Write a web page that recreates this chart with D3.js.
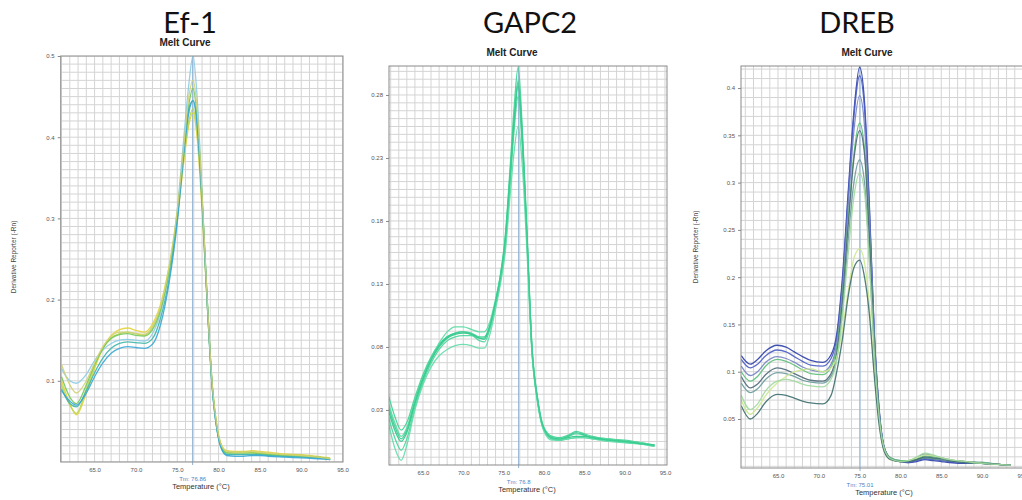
<!DOCTYPE html>
<html><head><meta charset="utf-8">
<script src="https://cdn.jsdelivr.net/npm/d3@7"></script>
<style>body{margin:0;background:#fff;}svg{display:block;}</style>
</head><body>
<svg id="chart" width="1022" height="500"></svg>
<script>
// ---------- DATA ----------
const panelTitles = ["Ef-1", "GAPC2", "DREB"];
const xTickValues = [65, 70, 75, 80, 85, 90, 95];
const ef1YTicks = [0.1, 0.2, 0.3, 0.4, 0.5];
const gapYTicks = [0.03, 0.08, 0.13, 0.18, 0.23, 0.28];
const drebYTicks = [0.05, 0.1, 0.15, 0.2, 0.25, 0.3, 0.35, 0.4];
const tmLabels = ["Tm: 76.86", "Tm: 76.8", "Tm: 75.01"];
const tmValues = [76.86, 76.86, 75.05];

const ef1Temps = [61, 62, 62.8, 64, 65, 66, 67, 68, 69, 70, 71, 72, 73, 74, 75, 75.8, 76.4, 76.9, 77.4, 78, 78.6, 79.2, 79.8, 80.4, 81, 82, 83, 84, 85, 86, 88, 90, 92, 93.5];
const ef1A = [0.115, 0.1, 0.097, 0.108, 0.125, 0.138, 0.146, 0.15, 0.151, 0.15, 0.149, 0.158, 0.185, 0.235, 0.31, 0.40, 0.465, 0.5, 0.45, 0.33, 0.2, 0.095, 0.04, 0.017, 0.01, 0.009, 0.009, 0.009, 0.009, 0.008, 0.007, 0.006, 0.005, 0.003];
const ef1B = [0.1, 0.072, 0.058, 0.085, 0.115, 0.14, 0.156, 0.163, 0.165, 0.162, 0.16, 0.17, 0.195, 0.24, 0.30, 0.37, 0.415, 0.43, 0.40, 0.31, 0.2, 0.1, 0.045, 0.02, 0.014, 0.013, 0.013, 0.014, 0.013, 0.012, 0.01, 0.009, 0.007, 0.005];
const ef1C = [0.095, 0.07, 0.06, 0.09, 0.118, 0.14, 0.153, 0.158, 0.16, 0.158, 0.156, 0.166, 0.19, 0.235, 0.3, 0.375, 0.42, 0.435, 0.405, 0.315, 0.2, 0.098, 0.043, 0.018, 0.012, 0.012, 0.012, 0.012, 0.011, 0.01, 0.009, 0.008, 0.006, 0.004];
const ef1D = [0.105, 0.08, 0.072, 0.095, 0.12, 0.14, 0.152, 0.157, 0.158, 0.156, 0.155, 0.163, 0.188, 0.235, 0.305, 0.385, 0.44, 0.46, 0.425, 0.325, 0.205, 0.098, 0.042, 0.018, 0.011, 0.011, 0.011, 0.011, 0.01, 0.009, 0.008, 0.007, 0.006, 0.004];
const ef1E = [0.09, 0.072, 0.068, 0.088, 0.11, 0.128, 0.14, 0.146, 0.148, 0.147, 0.146, 0.152, 0.178, 0.225, 0.3, 0.385, 0.435, 0.445, 0.42, 0.325, 0.205, 0.098, 0.04, 0.015, 0.009, 0.009, 0.009, 0.009, 0.009, 0.008, 0.007, 0.006, 0.005, 0.003];
const ef1F = [0.088, 0.075, 0.07, 0.085, 0.105, 0.122, 0.134, 0.14, 0.142, 0.141, 0.14, 0.145, 0.17, 0.22, 0.295, 0.38, 0.43, 0.445, 0.415, 0.32, 0.2, 0.095, 0.04, 0.015, 0.008, 0.007, 0.007, 0.008, 0.008, 0.007, 0.006, 0.005, 0.004, 0.003];
const ef1G = [0.12, 0.095, 0.085, 0.1, 0.122, 0.142, 0.155, 0.16, 0.16, 0.158, 0.157, 0.167, 0.192, 0.24, 0.31, 0.39, 0.45, 0.47, 0.435, 0.33, 0.205, 0.1, 0.044, 0.019, 0.013, 0.012, 0.012, 0.013, 0.012, 0.011, 0.009, 0.008, 0.006, 0.004];
const ef1Colors = ["#8ccbe6", "#e4d23c", "#b6d64a", "#74c65c", "#3fb6a8", "#38a6d6", "#d2d276"];

const gapTemps = [60.7, 61.5, 62.3, 63, 64, 65, 66, 67, 68, 69, 70, 71, 72, 72.6, 73.3, 74, 74.6, 75.2, 75.8, 76.3, 76.8, 77.3, 77.9, 78.5, 79.2, 80, 81, 82, 83, 84, 85, 86, 88, 90, 92, 93.7];
const gapA = [0.042, 0.025, 0.014, 0.02, 0.04, 0.058, 0.072, 0.082, 0.088, 0.091, 0.092, 0.091, 0.088, 0.088, 0.097, 0.116, 0.137, 0.168, 0.222, 0.27, 0.302, 0.255, 0.17, 0.082, 0.04, 0.016, 0.009, 0.008, 0.01, 0.013, 0.011, 0.009, 0.007, 0.006, 0.004, 0.002];
const gapB = [0.036, 0.02, 0.009, 0.016, 0.038, 0.056, 0.071, 0.083, 0.092, 0.096, 0.096, 0.094, 0.092, 0.092, 0.1, 0.118, 0.137, 0.166, 0.218, 0.262, 0.292, 0.25, 0.168, 0.08, 0.039, 0.015, 0.008, 0.007, 0.009, 0.011, 0.01, 0.008, 0.007, 0.005, 0.004, 0.002];
const gapC = [0.03, 0.014, 0.005, 0.012, 0.035, 0.054, 0.069, 0.08, 0.087, 0.09, 0.091, 0.09, 0.087, 0.086, 0.096, 0.115, 0.134, 0.163, 0.214, 0.258, 0.287, 0.245, 0.165, 0.079, 0.038, 0.014, 0.007, 0.006, 0.008, 0.009, 0.009, 0.008, 0.006, 0.005, 0.003, 0.002];
const gapD = [0.025, 0.008, -0.002, 0.007, 0.032, 0.052, 0.067, 0.078, 0.085, 0.088, 0.089, 0.089, 0.085, 0.084, 0.094, 0.113, 0.132, 0.16, 0.21, 0.252, 0.279, 0.24, 0.162, 0.078, 0.037, 0.014, 0.007, 0.006, 0.007, 0.008, 0.008, 0.007, 0.006, 0.004, 0.003, 0.001];
const gapE = [0.02, 0.0, -0.01, 0.002, 0.03, 0.05, 0.064, 0.073, 0.078, 0.081, 0.082, 0.081, 0.079, 0.079, 0.09, 0.11, 0.13, 0.155, 0.2, 0.235, 0.255, 0.225, 0.155, 0.076, 0.036, 0.013, 0.006, 0.006, 0.007, 0.008, 0.008, 0.007, 0.005, 0.004, 0.003, 0.001];
const gapF = [0.033, 0.017, 0.007, 0.014, 0.036, 0.055, 0.07, 0.081, 0.088, 0.091, 0.092, 0.09, 0.087, 0.087, 0.097, 0.116, 0.136, 0.165, 0.216, 0.26, 0.29, 0.248, 0.166, 0.08, 0.038, 0.015, 0.008, 0.007, 0.009, 0.012, 0.01, 0.008, 0.006, 0.005, 0.003, 0.002];
const gapColors = ["#3fd292", "#58d9a2", "#30c88a", "#4ad49a", "#62dcaa", "#38cc90"];

const drebTemps = [60.5, 61.6, 62.5, 63.5, 64.9, 66, 67, 68, 69, 70.5, 71.5, 72.2, 72.9, 73.6, 74.3, 75.0, 75.6, 76.2, 76.8, 77.4, 78, 78.8, 80, 81, 82, 83, 84, 85, 86, 88, 90, 92, 93.5];
const drebA = [0.117, 0.108, 0.113, 0.122, 0.128, 0.126, 0.121, 0.116, 0.112, 0.11, 0.118, 0.14, 0.2, 0.29, 0.375, 0.422, 0.385, 0.275, 0.14, 0.06, 0.02, 0.008, 0.005, 0.004, 0.005, 0.007, 0.006, 0.005, 0.004, 0.003, 0.003, 0.002, 0.001];
const drebB = [0.113, 0.104, 0.108, 0.117, 0.123, 0.121, 0.116, 0.111, 0.107, 0.106, 0.114, 0.136, 0.195, 0.285, 0.37, 0.413, 0.378, 0.27, 0.138, 0.058, 0.02, 0.008, 0.005, 0.004, 0.006, 0.008, 0.007, 0.006, 0.005, 0.004, 0.003, 0.002, 0.001];
const drebC = [0.106, 0.096, 0.1, 0.11, 0.116, 0.114, 0.11, 0.105, 0.102, 0.1, 0.108, 0.13, 0.188, 0.275, 0.355, 0.392, 0.36, 0.26, 0.135, 0.057, 0.02, 0.009, 0.006, 0.006, 0.009, 0.013, 0.011, 0.009, 0.007, 0.005, 0.004, 0.002, 0.001];
const drebD = [0.1, 0.09, 0.095, 0.106, 0.113, 0.111, 0.107, 0.102, 0.098, 0.097, 0.105, 0.126, 0.18, 0.26, 0.33, 0.363, 0.335, 0.245, 0.13, 0.055, 0.02, 0.009, 0.006, 0.006, 0.008, 0.011, 0.01, 0.009, 0.007, 0.005, 0.004, 0.002, 0.001];
const drebE = [0.095, 0.083, 0.087, 0.097, 0.104, 0.102, 0.098, 0.094, 0.091, 0.09, 0.098, 0.12, 0.175, 0.255, 0.325, 0.355, 0.33, 0.24, 0.128, 0.055, 0.02, 0.008, 0.005, 0.005, 0.007, 0.009, 0.008, 0.007, 0.006, 0.005, 0.003, 0.002, 0.001];
const drebF = [0.088, 0.078, 0.082, 0.092, 0.099, 0.098, 0.095, 0.091, 0.089, 0.088, 0.095, 0.115, 0.165, 0.24, 0.3, 0.324, 0.3, 0.22, 0.12, 0.052, 0.019, 0.008, 0.005, 0.005, 0.007, 0.009, 0.008, 0.007, 0.006, 0.004, 0.003, 0.002, 0.001];
const drebG = [0.07, 0.055, 0.062, 0.075, 0.088, 0.095, 0.1, 0.102, 0.103, 0.1, 0.104, 0.115, 0.145, 0.185, 0.22, 0.23, 0.215, 0.17, 0.1, 0.045, 0.017, 0.007, 0.005, 0.006, 0.009, 0.012, 0.011, 0.009, 0.007, 0.005, 0.003, 0.002, 0.001];
const drebH = [0.064, 0.05, 0.056, 0.068, 0.076, 0.075, 0.072, 0.069, 0.067, 0.066, 0.075, 0.1, 0.135, 0.18, 0.21, 0.218, 0.2, 0.16, 0.095, 0.043, 0.016, 0.007, 0.005, 0.005, 0.007, 0.01, 0.009, 0.008, 0.006, 0.004, 0.003, 0.002, 0.001];
const drebI = [0.075, 0.06, 0.066, 0.08, 0.09, 0.092, 0.09, 0.087, 0.085, 0.084, 0.092, 0.112, 0.16, 0.225, 0.285, 0.31, 0.29, 0.215, 0.118, 0.052, 0.019, 0.008, 0.005, 0.006, 0.01, 0.014, 0.012, 0.009, 0.007, 0.005, 0.003, 0.002, 0.001];
const drebColors = ["#2b3ea8", "#4a5cc4", "#7482c2", "#5cbf78", "#4c6878", "#6a9a9a", "#cce890", "#3e6e6e", "#a0d8a0"];

// ---------- LAYOUT ----------
const panels = [
  {title: panelTitles[0], titleX: 190, meltX: 185, meltY: 46, left: 60.7, right: 343, top: 56, bottom: 462,
   xDom: [60.9, 95.05], yDom: [0, 0.5], yTicks: ef1YTicks, yFmt: d3.format(".1f"), hStep: 0.01,
   temps: ef1Temps, series: [ef1A, ef1B, ef1C, ef1D, ef1E, ef1F, ef1G], colors: ef1Colors,
   tm: tmValues[0], tmLabel: tmLabels[0], yLabelX: 16, yLabelY: 257, yLabel: true, axisLabelX: 201},
  {title: panelTitles[1], titleX: 530, meltX: 512, meltY: 56, left: 389, right: 667, top: 66, bottom: 465,
   xDom: [60.79, 95.25], yDom: [-0.0137, 0.303], yTicks: gapYTicks, yFmt: d3.format(".2f"), hStep: 0.00625,
   temps: gapTemps, series: [gapA, gapB, gapC, gapD, gapE, gapF], colors: gapColors,
   tm: tmValues[1], tmLabel: tmLabels[1], yLabel: false, axisLabelX: 527},
  {title: panelTitles[2], titleX: 857, meltX: 867, meltY: 56, left: 741, right: 1027, top: 66, bottom: 468,
   xDom: [60.47, 95.5], yDom: [-0.0018, 0.4233], yTicks: drebYTicks, yFmt: d3.format("~g"), hStep: 0.01,
   temps: drebTemps, series: [drebA, drebB, drebC, drebD, drebE, drebF, drebG, drebH, drebI], colors: drebColors,
   tm: tmValues[2], tmLabel: tmLabels[2], yLabelX: 698, yLabelY: 247, yLabel: true, axisLabelX: 884}
];

const svg = d3.select("#chart");
const sans = "'Liberation Sans', Arial, sans-serif";

panels.forEach(p => {
  const x = d3.scaleLinear().domain(p.xDom).range([p.left, p.right]);
  const y = d3.scaleLinear().domain(p.yDom).range([p.bottom, p.top]);
  const g = svg.append("g");

  // titles
  g.append("text").attr("x", p.titleX).attr("y", 33).attr("text-anchor", "middle")
    .attr("font-family", "Lato, 'Open Sans', sans-serif").attr("font-size", 29).attr("fill", "#111")
    .text(p.title);
  g.append("text").attr("x", p.meltX).attr("y", p.meltY).attr("text-anchor", "middle")
    .attr("font-family", sans).attr("font-weight", "bold")
    .attr("font-size", 10).attr("fill", "#222").text("Melt Curve");

  // grid
  const clipId = "clip" + p.title.replace(/\W/g, "");
  svg.append("clipPath").attr("id", clipId).append("rect")
    .attr("x", p.left).attr("y", p.top).attr("width", p.right - p.left).attr("height", p.bottom - p.top);
  const grid = g.append("g").attr("clip-path", `url(#${clipId})`);
  const vLines = d3.range(Math.ceil(p.xDom[0]), p.xDom[1] + 0.001, 1);
  grid.selectAll(".v").data(vLines).join("line")
    .attr("x1", d => x(d)).attr("x2", d => x(d)).attr("y1", p.top).attr("y2", p.bottom)
    .attr("stroke", "#d4d4d4").attr("stroke-width", 1);
  const base = p.yTicks[0];
  const hLines = [];
  for (let v = base; v <= p.yDom[1] + 1e-9; v += p.hStep) hLines.push(v);
  for (let v = base - p.hStep; v >= p.yDom[0] - 1e-9; v -= p.hStep) hLines.push(v);
  grid.selectAll(".h").data(hLines).join("line")
    .attr("x1", p.left).attr("x2", p.right).attr("y1", d => y(d)).attr("y2", d => y(d))
    .attr("stroke", "#d4d4d4").attr("stroke-width", 1);

  // Tm line
  g.append("line").attr("x1", x(p.tm)).attr("x2", x(p.tm)).attr("y1", p.top).attr("y2", p.bottom + 3)
    .attr("stroke", "#8fb2d2").attr("stroke-width", 1);

  // curves
  const line = d3.line().x(d => x(d[0])).y(d => y(d[1])).curve(d3.curveMonotoneX);
  const curves = g.append("g").attr("clip-path", `url(#${clipId})`);
  p.series.forEach((s, i) => {
    const pts = p.temps.map((t, k) => [t, s[k]]);
    curves.append("path").attr("d", line(pts)).attr("fill", "none")
      .attr("stroke", p.colors[i]).attr("stroke-width", 1.3).attr("stroke-opacity", 0.9);
  });

  // border
  g.append("rect").attr("x", p.left).attr("y", p.top).attr("width", p.right - p.left).attr("height", p.bottom - p.top)
    .attr("fill", "none").attr("stroke", "#8a8a8a").attr("stroke-width", 1);

  // axes
  const yAxis = d3.axisLeft(y).tickValues(p.yTicks).tickFormat(p.yFmt).tickSize(3).tickPadding(3);
  const ya = g.append("g").attr("transform", `translate(${p.left},0)`).call(yAxis);
  ya.select(".domain").remove();
  ya.selectAll("line").attr("stroke", "#888");
  ya.selectAll("text").attr("font-size", 6).attr("fill", "#555").attr("font-family", sans);

  const xAxis = d3.axisBottom(x).tickValues(xTickValues).tickFormat(d3.format(".1f")).tickSize(0).tickPadding(6);
  const xa = g.append("g").attr("transform", `translate(0,${p.bottom})`).call(xAxis);
  xa.select(".domain").remove();
  xa.selectAll("text").attr("font-size", 6).attr("fill", "#555").attr("font-family", sans);

  // Tm label and axis label
  g.append("text").attr("x", x(p.tm)).attr("y", p.bottom + 19).attr("text-anchor", "middle")
    .attr("font-family", sans).attr("font-size", 6).attr("fill", "#4a86c6")
    .text(p.tmLabel);
  g.append("text").attr("x", p.axisLabelX).attr("y", p.bottom + 27).attr("text-anchor", "middle")
    .attr("font-family", sans).attr("font-size", 7.5).attr("fill", "#333")
    .text("Temperature (°C)");
  if (p.yLabel) {
    g.append("text").attr("transform", `translate(${p.yLabelX},${p.yLabelY}) rotate(-90)`).attr("text-anchor", "middle")
      .attr("font-family", sans).attr("font-size", 6.5).attr("fill", "#444")
      .text("Derivative Reporter (-Rn)");
  }
});
</script>
</body></html>
